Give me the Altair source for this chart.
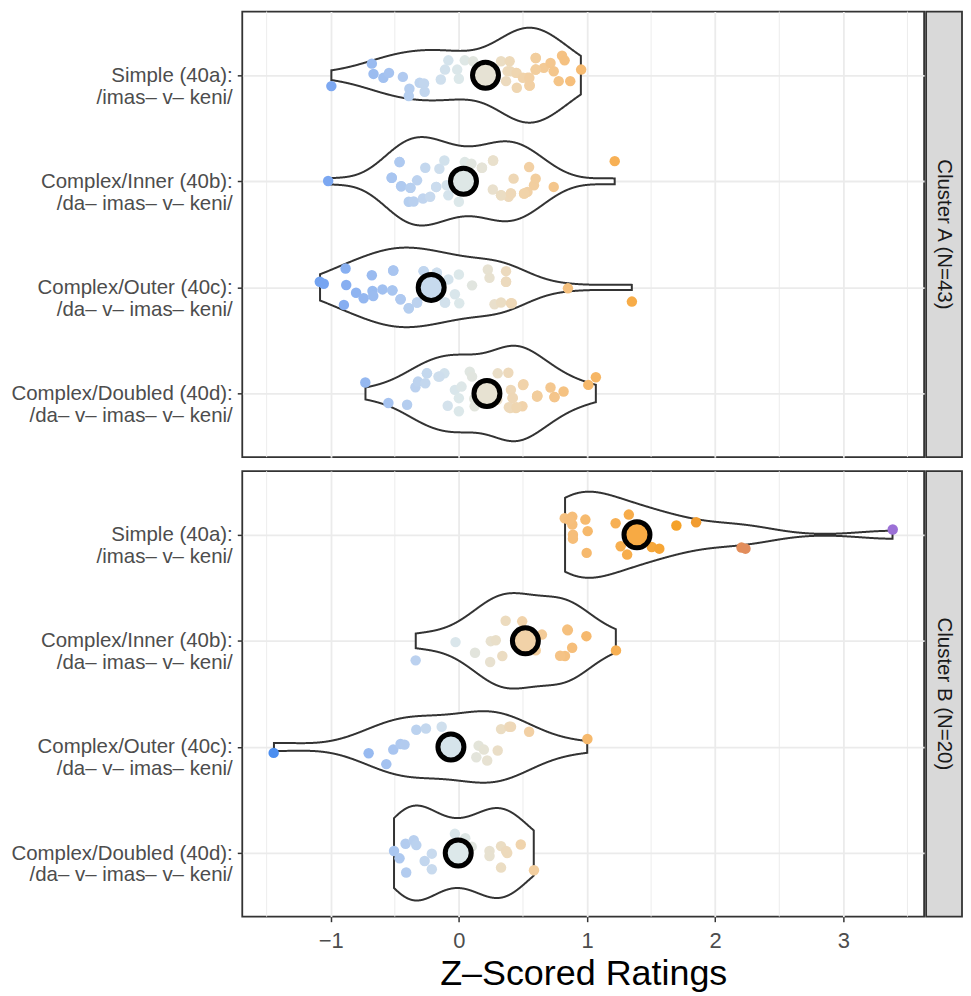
import altair as alt
import pandas as pd

FONT = "Liberation Sans"

# ---- category labels (y axis, top to bottom) ----
COND_LINE1 = ["Simple (40a):", "Complex/Inner (40b):", "Complex/Outer (40c):", "Complex/Doubled (40d):"]
COND_LINE2 = ["/imas– v– keni/", "/da– imas– v– keni/", "/da– v– imas– keni/", "/da– v– imas– v– keni/"]
CLUSTER_LABELS = {"A": "Cluster A (N=43)", "B": "Cluster B (N=20)"}

# ---- x axis ----
X_DOMAIN = [-1.69, 3.63]
X_MAJOR = [-1, 0, 1, 2, 3]
X_MINOR = [-1.5, -0.5, 0.5, 1.5, 2.5, 3.5]
X_TITLE = "Z–Scored Ratings"

# ---- Cluster A (N=43): ratings and vertical jitter (in category units) ----
A_SIMPLE = [-0.995, -0.679, -0.666, -0.589, -0.545, -0.437, -0.386, -0.391, -0.306, -0.272, -0.267,
            -0.141, -0.108, -0.082, 0.000, -0.013, 0.046, 0.111, 0.329, 0.396, 0.380, 0.445, 0.368,
            0.452, 0.535, 0.553, 0.599, 0.599, 0.663, 0.715, 0.740, 0.805, 0.825, 0.779, 0.869, 0.954,
            0.400, 0.450, 0.500, 0.550, 0.550, 0.600, 0.600]
A_SIMPLE_JIT = [0.103, -0.109, -0.012, 0.025, -0.022, 0.016, 0.128, 0.196, 0.072, 0.078, 0.156,
                0.040, -0.053, -0.140, 0.034, -0.053, -0.140, -0.131, -0.131, -0.131, -0.037, -0.022, 0.056,
                0.118, 0.025, 0.097, -0.162, -0.053, -0.069, -0.115, -0.037, -0.184, -0.140, 0.056, 0.056, -0.053,
                -0.037, -0.022, 0.025, 0.025, 0.097, -0.053, -0.162]

A_INNER = [-1.02, -0.463, -0.524, -0.450, -0.378, -0.326, -0.391, -0.280, -0.262, -0.224, -0.177,
           -0.152, -0.113, -0.082, -0.095, 0.000, 0.046, 0.098, 0.180, 0.267, 0.265, 0.329, 0.388,
           0.406, 0.427, 0.509, 0.535, 0.548, 0.586, 0.599, 0.740, 1.216,
           -0.524, -0.463, -0.450, -0.378, -0.177, 0.180, 0.267, 0.329, 0.406, 0.509, -0.353]
A_INNER_JIT = [-0.003, -0.181, -0.034, 0.047, 0.062, -0.009, 0.193, 0.162, -0.128, 0.146, 0.053,
               -0.118, -0.196, 0.131, 0.037, 0.193, -0.181, -0.165, -0.128, -0.196, 0.078, 0.131, 0.146,
               0.115, -0.025, 0.115, 0.100, -0.134, 0.037, -0.025, 0.053, -0.190,
               -0.034, -0.181, 0.047, 0.062, 0.053, -0.128, -0.196, 0.131, 0.115, 0.115, 0.190]

A_OUTER = [-1.085, -1.054, -0.884, -0.879, -0.897, -0.802, -0.743, -0.679, -0.674, -0.668, -0.596,
           -0.519, -0.512, -0.455, -0.391, -0.326, -0.275, -0.172, -0.108, -0.082, -0.031, 0.000,
           0.003, 0.103, 0.226, 0.239, 0.368, 0.368, 0.278, 0.329, 0.406, 0.851, 1.350,
           -0.519, -0.512, -0.455, -0.391, -0.326, -0.275, -0.172, -0.108, 0.368, 0.413]
A_OUTER_JIT = [-0.053, -0.034, -0.178, -0.022, 0.165, 0.050, 0.103, -0.115, 0.034, 0.081, 0.019,
               0.028, -0.159, 0.112, 0.196, 0.143, -0.153, -0.137, 0.143, -0.075, 0.065, -0.121,
               0.150, -0.019, -0.168, -0.090, -0.153, -0.053, 0.159, 0.143, 0.150, 0.009, 0.134,
               0.028, -0.159, 0.112, 0.196, 0.143, -0.153, -0.137, 0.143, -0.053, 0.150]

A_DOUBLED = [-0.730, -0.550, -0.404, -0.339, -0.319, -0.262, -0.249, -0.159, -0.113, -0.087, -0.031,
             0.000, 0.000, 0.021, 0.085, 0.103, 0.123, 0.303, 0.386, 0.406, 0.419, 0.401, 0.445,
             0.496, 0.504, 0.612, 0.715, 0.746, 0.817, 1.010, 1.069,
             0.12, -0.249, 0.612, 0.746, 0.30, 0.39, 0.45, 0.50, 0.42, 0.61, 0.25, -0.151]
A_DOUBLED_JIT = [-0.103, 0.090, 0.106, -0.059, -0.112, -0.097, -0.190, -0.159, -0.190, 0.115, -0.034,
                 0.044, 0.168, -0.065, -0.206, -0.159, 0.121, -0.190, -0.196, -0.034, 0.044, 0.137, 0.137,
                 0.121, -0.087, 0.022, -0.056, 0.034, -0.019, -0.081, -0.153,
                 0.05, -0.190, 0.022, 0.034, 0.06, 0.13, 0.13, -0.08, 0.04, 0.03, -0.05, -0.16]

# ---- Cluster B (N=20) ----
B_SIMPLE = [0.826, 0.885, 0.885, 0.890, 0.890, 0.987, 1.005, 0.997, 1.223, 1.326, 1.262, 1.313,
            1.505, 1.564, 1.697, 1.851, 2.205, 2.236, 3.385, 0.860]
B_SIMPLE_JIT = [-0.156, -0.171, -0.097, 0.000, 0.037, -0.143, -0.034, 0.171, -0.109, -0.190, 0.109, 0.187,
                0.115, 0.131, -0.087, -0.118, 0.121, 0.131, -0.050, -0.140]

B_INNER = [-0.337, -0.026, 0.126, 0.244, 0.249, 0.288, 0.339, 0.365, 0.494, 0.648, 0.846, 0.884,
           0.828, 0.995, 1.226, 0.45, 0.52, 0.60, 0.85, 0.79]
B_INNER_JIT = [0.184, 0.012, 0.112, 0.199, 0.003, -0.006, 0.143, -0.190, -0.184, -0.059, -0.106, 0.065,
               0.143, -0.044, 0.090, 0.05, -0.08, 0.09, -0.10, 0.14]

B_OUTER = [-1.445, -0.704, -0.566, -0.512, -0.455, -0.424, -0.332, -0.257, -0.134, 0.154, 0.195, 0.136,
           0.221, 0.303, 0.329, 0.393, 0.548, 1.003, -0.10, 0.407]
B_OUTER_JIT = [0.056, 0.059, 0.162, 0.025, -0.028, -0.022, -0.162, -0.174, -0.190, -0.012, 0.025, 0.097,
               0.128, 0.034, -0.168, -0.190, -0.143, -0.075, 0.05, -0.19]

B_DOUBLED = [-0.506, -0.463, -0.416, -0.352, -0.332, -0.411, -0.267, -0.211, -0.211, -0.031, 0.239, 0.239,
             0.329, 0.368, 0.329, 0.483, 0.586, 0.05, 0.10, 0.377]
B_DOUBLED_JIT = [-0.019, 0.050, -0.087, -0.121, -0.075, 0.184, 0.075, 0.006, 0.153, -0.181, -0.019, 0.028,
                 -0.065, -0.019, 0.137, -0.081, 0.162, -0.14, -0.06, 0.0]

# ---- colour gradient for ratings ----
COLOR_STOPS = [-1.45, -1.0, -0.5, -0.2, 0.0, 0.25, 0.5, 0.9, 1.3, 1.75, 2.2, 3.4]
COLOR_RANGE = ["#4a8ef0", "#7da8f1", "#aac6f0", "#c9dbee", "#dce8ea", "#e8e1cf",
               "#f1d3aa", "#f6bd78", "#f7ad4c", "#f5a024", "#e48e58", "#9a70d8"]

GROUPS = {
    "A": [(A_SIMPLE, A_SIMPLE_JIT), (A_INNER, A_INNER_JIT), (A_OUTER, A_OUTER_JIT), (A_DOUBLED, A_DOUBLED_JIT)],
    "B": [(B_SIMPLE, B_SIMPLE_JIT), (B_INNER, B_INNER_JIT), (B_OUTER, B_OUTER_JIT), (B_DOUBLED, B_DOUBLED_JIT)],
}
rows = []
for cl, groups in GROUPS.items():
    for pos, (vals, jits) in enumerate(groups, start=1):
        for v, j in zip(vals, jits):
            rows.append({"cluster": cl, "cond": pos, "value": v, "jit": j})
df = pd.DataFrame(rows)
minor_df = pd.DataFrame({"x": X_MINOR})

label_expr = " : ".join(
    f"datum.value == {i + 1} ? ['{COND_LINE1[i]}', '{COND_LINE2[i]}']" for i in range(4)
) + " : ''"

# total width = Y_EXTENT + PW + STRIP_W must stay within the 955px page body
PW, PH, STRIP_W = 684, 447, 36
Y_EXTENT = 234
GRID = "#ebebeb"
DARK = "#333333"

cscale = alt.Scale(domain=COLOR_STOPS, range=COLOR_RANGE, interpolate="rgb")
xscale = alt.Scale(domain=X_DOMAIN, nice=False, zero=False)
yscale = alt.Scale(domain=[0.4, 4.6], reverse=True, nice=False, zero=False)


def panel(cl, show_x):
    if show_x:
        xaxis = alt.Axis(values=X_MAJOR, format="d", title=X_TITLE, titleFontSize=36,
                         titleFontWeight="normal", titleColor="black", titlePadding=5,
                         labelFontSize=22, labelColor="#4d4d4d", labelPadding=9, labelOverlap=False,
                         tickSize=5, tickColor=DARK, tickWidth=1.5, domain=False,
                         gridColor=GRID, gridWidth=1.8)
    else:
        xaxis = alt.Axis(values=X_MAJOR, labels=False, ticks=False, domain=False, title=None,
                         gridColor=GRID, gridWidth=1.8)
    yaxis = alt.Axis(values=[1, 2, 3, 4], labelExpr=label_expr, title=None, labelFontSize=20.5,
                     labelColor="#4d4d4d", labelAlign="right", labelBaseline="middle", labelLineHeight=22,
                     labelPadding=5, labelOverlap=False, labelLimit=0, tickSize=5, tickColor=DARK,
                     tickWidth=1.5, domain=False, gridColor=GRID, gridWidth=1.8,
                     minExtent=Y_EXTENT, maxExtent=Y_EXTENT)

    minor = (
        alt.Chart(minor_df)
        .mark_rule(color=GRID, strokeWidth=0.9)
        .encode(x=alt.X("x:Q", scale=xscale, axis=xaxis))
    )

    base = alt.Chart(df).transform_filter(alt.datum.cluster == cl)

    violin = (
        base.transform_joinaggregate(sd="stdev(value)", q1="q1(value)", q3="q3(value)", n="count()",
                                     lo="min(value)", hi="max(value)", groupby=["cond"])
        .transform_calculate(bw="0.9*min(datum.sd, (datum.q3-datum.q1)/1.34)*pow(datum.n, -0.2)")
        .transform_calculate(u="datum.value/datum.bw")
        .transform_density("u", as_=["u", "d"], groupby=["cond", "bw", "lo", "hi"], bandwidth=1,
                           extent=[-12, 22], steps=3000)
        .transform_calculate(v="datum.u*datum.bw", dens="datum.d/datum.bw")
        .transform_filter("datum.v >= datum.lo && datum.v <= datum.hi")
        .transform_joinaggregate(maxd="max(dens)")
        .transform_calculate(ylo="datum.cond - 0.45*datum.dens/datum.maxd",
                             yhi="datum.cond + 0.45*datum.dens/datum.maxd")
        .mark_area(fill="white", stroke=DARK, strokeWidth=2, opacity=1)
        .encode(x=alt.X("v:Q", scale=xscale, axis=xaxis),
                y=alt.Y("ylo:Q", scale=yscale, axis=yaxis, stack=None),
                y2="yhi:Q",
                detail="cond:N")
    )
    points = (
        base.transform_calculate(yj="datum.cond + datum.jit")
        .mark_circle(size=110, opacity=1)
        .encode(x=alt.X("value:Q", scale=xscale, axis=xaxis),
                y=alt.Y("yj:Q", scale=yscale, axis=yaxis),
                fill=alt.Fill("value:Q", scale=cscale, legend=None))
    )
    means = (
        base.transform_aggregate(m="mean(value)", groupby=["cond"])
        .mark_circle(size=680, stroke="black", strokeWidth=5, opacity=1)
        .encode(x=alt.X("m:Q", scale=xscale, axis=xaxis),
                y=alt.Y("cond:Q", scale=yscale, axis=yaxis),
                fill=alt.Fill("m:Q", scale=cscale, legend=None))
    )
    layer = alt.layer(minor, violin, points, means).properties(width=PW, height=PH)

    strip = (
        alt.Chart(pd.DataFrame({"t": [CLUSTER_LABELS[cl]]}))
        .mark_text(angle=90, fontSize=20.5, color="#1a1a1a", font=FONT)
        .encode(text="t:N", x=alt.value(STRIP_W / 2), y=alt.value(PH / 2))
        .properties(width=STRIP_W, height=PH,
                    view=alt.ViewBackground(fill="#d9d9d9", stroke=DARK, strokeWidth=1.8))
    )
    return alt.hconcat(layer, strip, spacing=0)


chart = (
    alt.vconcat(panel("A", False), panel("B", True), spacing=10)
    .properties(padding={"left": 0, "top": 0, "right": 0, "bottom": 0})
    .configure(font=FONT)
    .configure_view(stroke=DARK, strokeWidth=1.8, fill="white")
    .configure_axis(labelFont=FONT, titleFont=FONT)
)

chart.save("out.html", embed_options={"renderer": "svg", "actions": False})
